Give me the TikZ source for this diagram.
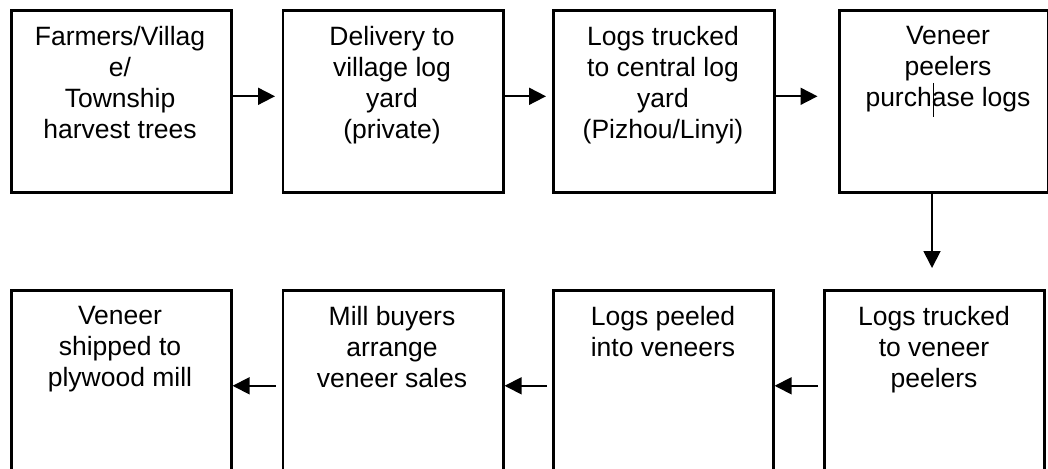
\documentclass[tikz,border=0pt]{standalone}
\usepackage{fontspec}
\setmainfont{Liberation Sans}
\usetikzlibrary{arrows.meta}
\begin{document}
\begin{tikzpicture}[x=1pt,y=-1pt,
  box/.style={draw=black, line width=2.6pt, inner sep=0pt, anchor=north west},
  lbl/.style={align=center, inner sep=0pt, anchor=north, font=\fontsize{26.5}{31}\selectfont},
  flow/.style={line width=1.8pt, -{Triangle[length=17pt,width=17pt]}}]
\useasboundingbox (0,0) rectangle (1048,468);
\clip (0,0) rectangle (1048,468);
% top row boxes
\node[box, minimum width=220pt, minimum height=182pt] (b1) at (10,9) {};
\node[box, minimum width=220.5pt, minimum height=182pt] (b2) at (281.5,9) {};
\node[box, minimum width=221pt, minimum height=182pt] (b3) at (552,9) {};
\node[box, minimum width=209pt, minimum height=182pt] (b4) at (838,9) {};
% bottom row boxes
\node[box, minimum width=220pt, minimum height=191pt] (b5) at (10,289) {};
\node[box, minimum width=220.5pt, minimum height=191pt] (b6) at (281.5,289) {};
\node[box, minimum width=220pt, minimum height=191pt] (b7) at (552,289) {};
\node[box, minimum width=220pt, minimum height=191pt] (b8) at (823,289) {};
% labels
\node[lbl] (t1) at (120,26) {Farmers/Villag\\e/\\Township\\harvest trees};
\node[lbl] (t2) at (392,26) {Delivery to\\village log\\yard\\(private)};
\node[lbl] (t3) at (663,26) {Logs trucked\\to central log\\yard\\(Pizhou/Linyi)};
\node[lbl] (t4) at (948,26) {Veneer\\peelers\\purchase logs};
\node[lbl] (t5) at (120,306) {Veneer\\shipped to\\plywood mill};
\node[lbl] (t6) at (392,306) {Mill buyers\\arrange\\veneer sales};
\node[lbl] (t7) at (663,306) {Logs peeled\\into veneers};
\node[lbl] (t8) at (934,306) {Logs trucked\\to veneer\\peelers};
% cursor mark in "purchase"
\coordinate (c1) at (933,83);
\coordinate (c2) at (933,117);
\draw[line width=0.8pt] (c1) -- (c2);
% top connectors
\draw[flow, shorten >=6.5pt] ([yshift=5pt]b1.east) -- ([yshift=5pt]b2.west);
\draw[flow, shorten >=6pt] ([yshift=5pt]b2.east) -- ([yshift=5pt]b3.west);
\draw[flow, shorten >=20.5pt] ([yshift=5pt]b3.east) -- ([yshift=5pt]b4.west);
% down connector
\coordinate (d1) at (932,191);
\coordinate (d2) at (932,289);
\draw[flow, shorten >=21pt] (b4.south -| d1) -- (b8.north -| d2);
% bottom connectors
\draw[flow, shorten <=5pt] (b8.west) -- (b7.east);
\draw[flow, shorten <=5pt] (b7.west) -- (b6.east);
\draw[flow, shorten <=6pt] (b6.west) -- (b5.east);
\end{tikzpicture}
\end{document}
